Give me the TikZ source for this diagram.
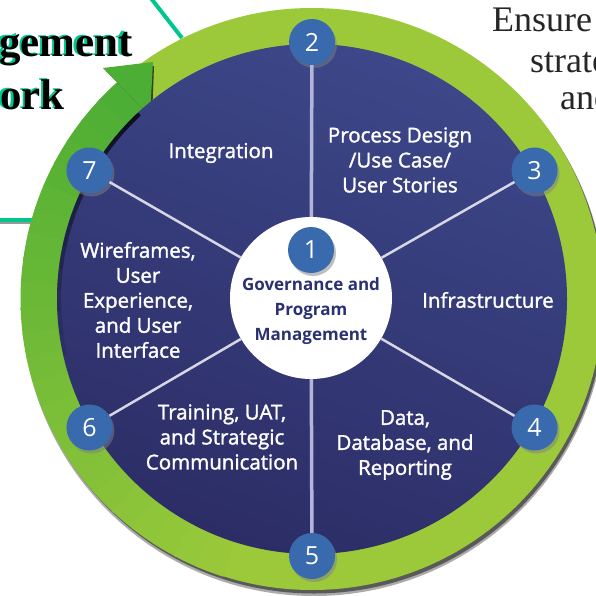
\documentclass[tikz,border=0pt]{standalone}
\usepackage{fontspec}
\setmainfont{Liberation Serif}
\newfontfamily\lab{Open Sans}[FakeBold=1.6]
\newfontfamily\labc{Open Sans}
\usetikzlibrary{calc,shadows}
\definecolor{navyT}{HTML}{3D4789}
\definecolor{navyB}{HTML}{2C2D66}
\definecolor{ringG}{HTML}{9BC93A}
\definecolor{arrowG}{HTML}{4CAE34}
\definecolor{badgeB}{HTML}{3A6AAE}
\definecolor{tealL}{HTML}{00C68F}
\definecolor{spokeC}{HTML}{D6D6E6}
\definecolor{spokeV}{HTML}{B4B4D8}
\definecolor{centerT}{HTML}{2B3170}
\begin{document}
\begin{tikzpicture}[x=1pt,y=-1pt,
  badge/.style={circle, fill=badgeB, minimum size=46pt, inner sep=0pt, text=white,
    font=\labc\fontsize{25}{25}\selectfont,
    drop shadow={shadow xshift=2pt, shadow yshift=-3pt, opacity=.5}},
  lbl/.style={text=white, align=center, font=\lab\fontsize{20.5}{25}\selectfont, inner sep=0pt},
  spoke/.style={draw=spokeC, line width=2.5pt},
  vspoke/.style={draw=spokeV, line width=3.5pt},
  titleg/.style={text=tealL, font=\bfseries\fontsize{43}{50}\selectfont, inner sep=0pt},
  titleb/.style={text=black, font=\bfseries\fontsize{43}{50}\selectfont, inner sep=0pt},
  rtext/.style={text=black!85, font=\fontsize{36}{40}\selectfont, inner sep=0pt, anchor=base west}]
\useasboundingbox (0,0) rectangle (596,596);
\clip (0,0) rectangle (596,596);
\fill[white] (0,0) rectangle (596,596);
\coordinate (C) at (312,299);
% teal connector lines
\draw[tealL, line width=4pt] (150,-3) -- (182,38);
\draw[black!40, line width=1.5pt] (0,223) -- (34,223);
\draw[tealL, line width=4pt] (0,220) -- (34,220);
% ring and shadow
\fill[black!55, opacity=.6] ($(C)+(2,5)$) circle (292);
\fill[black!65] ($(C)+(2,3.5)$) circle (291);
\fill[ringG] (C) circle (291);
% arrow body (gradient)
\foreach \i in {0,...,23}{
  \pgfmathsetmacro\pa{131.7+5*\i}
  \pgfmathsetmacro\pb{\pa+5.6}
  \pgfmathtruncatemacro\pp{100-100*\i/24}
  \colorlet{segc}{arrowG!\pp!ringG}
  \fill[segc] ($(C)+(-\pa:291.5)$) arc[start angle=-\pa, end angle=-\pb, radius=291.5]
     -- ($(C)+(-\pb:250)$) arc[start angle=-\pb, end angle=-\pa, radius=250] -- cycle;
}
% arrow head
\fill[black!85!navyB, opacity=.7] (106,71) -- (154,66) -- (152,118) -- cycle;
\fill[arrowG] (103,68) -- (153,62) -- (150,116) -- cycle;
% navy disk
\shade[top color=navyT, bottom color=navyB, shading angle=-20] (C) circle (255);
% inner shadow along arrow body
\foreach \i in {0,...,11}{
  \pgfmathsetmacro\pa{133+5*\i}
  \pgfmathsetmacro\op{0.85-0.07*\i}
  \draw[line width=4pt, draw=black!85!navyB, opacity=\op]
    ($(C)+(-\pa:253)$) arc[start angle=-\pa, end angle=-\pa-5, radius=253];
}
% center circle
\node[circle, fill=white, minimum size=162pt, inner sep=0pt] (c0) at (311,298) {};
% badges
\node[badge] (b2) at ($(C)+(-90:257)$) {2};
\node[badge] (b3) at ($(C)+(-30:257)$) {3};
\node[badge] (b4) at ($(C)+(30:257)$) {4};
\node[badge] (b5) at ($(C)+(90:257)$) {5};
\node[badge] (b6) at ($(C)+(150:257)$) {6};
\node[badge] (b7) at ($(C)+(-150:257)$) {7};
% spokes
\draw[vspoke] (c0) -- (b2);
\draw[vspoke] (c0) -- (b5);
\draw[spoke] (c0) -- (b3);
\draw[spoke] (c0) -- (b4);
\draw[spoke] (c0) -- (b6);
\draw[spoke] (c0) -- (b7);
\node[badge, drop shadow={opacity=0}] (b1) at (311,250) {1};
% centre label
\node[text=centerT, align=center, inner sep=0pt,
  font=\labc\bfseries\fontsize{17}{25}\selectfont] (t1) at (311,311)
  {Governance and\\Program\\Management};
% segment labels
\node[lbl] (t2) at (400,160) {Process Design\\/Use Case/\\User Stories};
\node[lbl] (t3) at (488,300) {Infrastructure};
\node[lbl] (t4) at (405,445) {Data,\\Database, and\\Reporting};
\node[lbl] (t6) at (222,437) {Training, UAT,\\and Strategic\\Communication};
\node[lbl] (t5) at (138,300) {Wireframes,\\User\\Experience,\\and User\\Interface};
\node[lbl] (t7) at (221,153) {Integration};
% title fragments
\node[titleg, anchor=base east] (g1) at (130.5,55.5) {gement};
\node[titleb, anchor=base east] (g2) at (133,57) {gement};
\node[titleg, anchor=base east] (o1) at (62.5,108.5) {ork};
\node[titleb, anchor=base east] (o2) at (65,110) {ork};
% right text fragments
\node[rtext] (r1) at (492,32) {Ensure};
\node[rtext] (r2) at (530,73) {strate};
\node[rtext] (r3) at (560,110) {and};
\end{tikzpicture}
\end{document}
